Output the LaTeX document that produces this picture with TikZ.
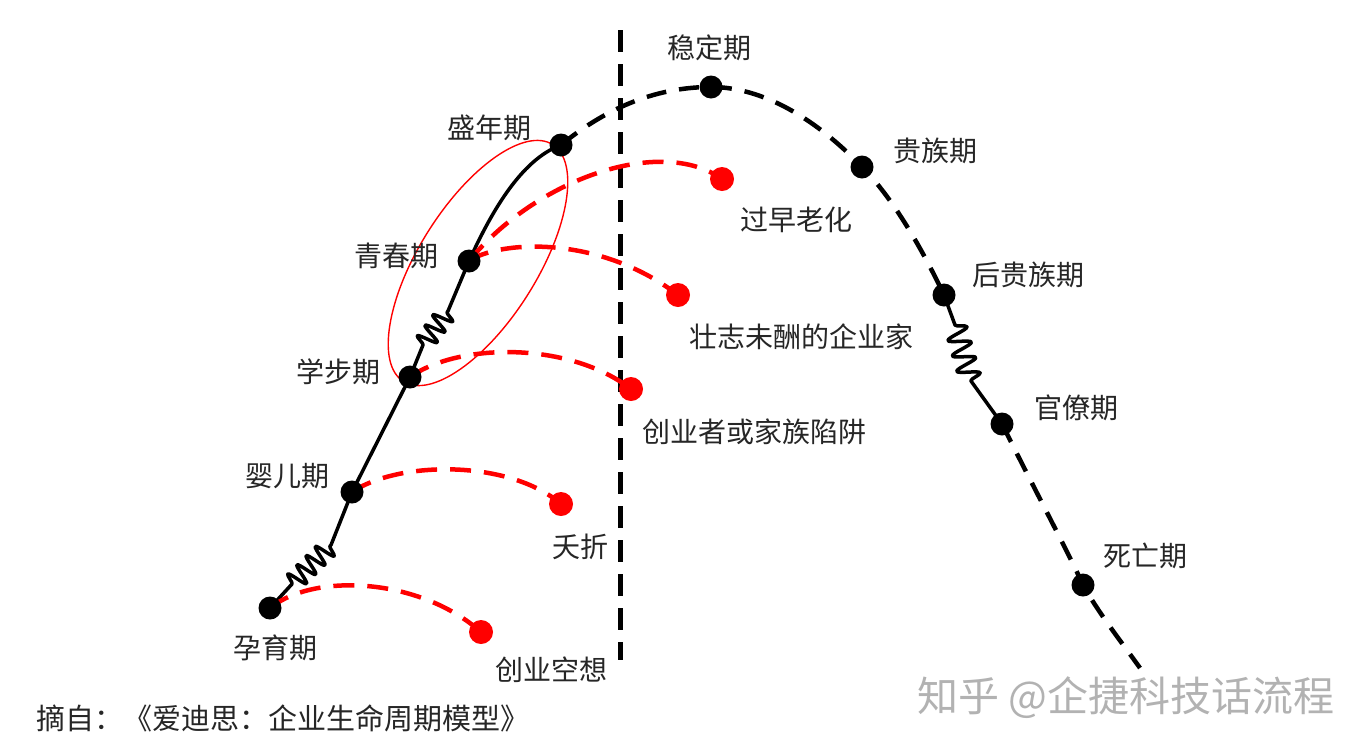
\documentclass[tikz,border=0pt]{standalone}
\usepackage{fontspec}
\newfontfamily\cjk{Noto Sans CJK SC}
\usetikzlibrary{decorations.pathmorphing,backgrounds}
\begin{document}
\begin{tikzpicture}[x=1pt,y=-1pt,
  bdot/.style={circle, fill=black, inner sep=0pt, minimum size=23pt},
  rdot/.style={circle, fill=red, inner sep=0pt, minimum size=24pt},
  lbl/.style={font=\cjk\fontsize{28}{30}\selectfont, text=black!85, inner sep=0pt},
  bdash/.style={line width=4.5pt, dash pattern=on 20pt off 13pt},
  rdash/.style={red, line width=4.5pt, dash pattern=on 21pt off 13pt},
  solidline/.style={line width=3.5pt, line join=round},
  spring/.style={decoration={snake, segment length=13pt, amplitude=10pt}}
]
\useasboundingbox (0,0) rectangle (1368,753);

% stage dots
\node[bdot] (yy) at (270,608) {};
\node[bdot] (ye) at (352,492) {};
\node[bdot] (xb) at (410,377) {};
\node[bdot] (qc) at (469,261) {};
\node[bdot] (sn) at (561,145) {};
\node[bdot] (wd) at (711,87) {};
\node[bdot] (gz) at (862,167) {};
\node[bdot] (hg) at (944,295) {};
\node[bdot] (gl) at (1002,424) {};
\node[bdot] (sw) at (1083,585) {};
\coordinate (endc) at (1140,668);

% red failure dots
\node[rdot] (r1) at (481,632) {};
\node[rdot] (r2) at (561,504) {};
\node[rdot] (r3) at (631,389) {};
\node[rdot] (r4) at (678,295) {};
\node[rdot] (r5) at (722,179) {};

% spring helper coordinates
\coordinate (s1a) at (292,584);
\coordinate (s1b) at (331,545);
\coordinate (s2a) at (423,345);
\coordinate (s2b) at (448,311);
\coordinate (s3a) at (955,325);
\coordinate (s3b) at (971,381);

% vertical divider
\coordinate (vt) at (620,30);
\coordinate (vb) at (620,660);

% labels
\node[lbl] (l1) at (275,648) {孕育期};
\node[lbl] (l2) at (287,476) {婴儿期};
\node[lbl] (l3) at (338,372) {学步期};
\node[lbl] (l4) at (396,256) {青春期};
\node[lbl] (l5) at (489,128) {盛年期};
\node[lbl] (l6) at (709,48) {稳定期};
\node[lbl] (l7) at (935,151) {贵族期};
\node[lbl] (l8) at (1028,275) {后贵族期};
\node[lbl] (l9) at (1076,408) {官僚期};
\node[lbl] (l10) at (1145,556) {死亡期};
\node[lbl] (f1) at (551,670) {创业空想};
\node[lbl] (f2) at (580,547) {夭折};
\node[lbl] (f3) at (754,432) {创业者或家族陷阱};
\node[lbl] (f4) at (801,337) {壮志未酬的企业家};
\node[lbl] (f5) at (796,220) {过早老化};

\node[font=\cjk\fontsize{29}{31}\selectfont, text=black!85, inner sep=0pt] (src) at (283,718) {摘自：《爱迪思：企业生命周期模型》};
\node[font=\cjk\fontsize{41}{43}\selectfont, text=black!30, inner sep=0pt] (wm) at (1126,698) {知乎 @企捷科技话流程};

\begin{pgfonlayer}{background}
  \fill[white] (0,0) rectangle (1368,753);
  % divider
  \draw[line width=5pt, dash pattern=on 22pt off 12pt] (vt) -- (vb);
  % growth path (solid with springs)
  \draw[solidline] (yy.center) -- (s1a) decorate[spring]{-- (s1b)} -- (ye.center) -- (xb.center)
        -- (s2a) decorate[spring]{-- (s2b)} -- (qc.center)
        .. controls (490,215) and (520,160) .. (sn.center);
  % later path (dashed)
  \draw[bdash] (sn.center) .. controls (610,105) and (660,87) .. (wd.center)
        .. controls (770,87) and (825,128) .. (gz.center)
        .. controls (895,200) and (925,255) .. (hg.center);
  \draw[solidline] (hg.center) -- (s3a) decorate[decoration={snake, segment length=16pt, amplitude=11pt}]{-- (s3b)} -- (gl.center);
  \draw[bdash] (gl.center) .. controls (1040,500) and (1068,552) .. (sw.center)
        .. controls (1100,615) and (1120,640) .. (endc);
  % failure curves
  \draw[rdash] (yy.center) .. controls (315,572) and (420,578) .. (r1.center);
  \draw[rdash] (ye.center) .. controls (400,460) and (510,460) .. (r2.center);
  \draw[rdash] (xb.center) .. controls (460,342) and (570,342) .. (r3.center);
  \draw[rdash] (qc.center) .. controls (500,240) and (600,235) .. (r4.center);
  \draw[rdash] (qc.center) .. controls (535,180) and (660,135) .. (r5.center);
  % highlight ellipse
  \draw[red, line width=1.4pt, rotate around={57.8:(478,263)}] (478,263) ellipse [x radius=140pt, y radius=59pt];
\end{pgfonlayer}
\end{tikzpicture}
\end{document}
